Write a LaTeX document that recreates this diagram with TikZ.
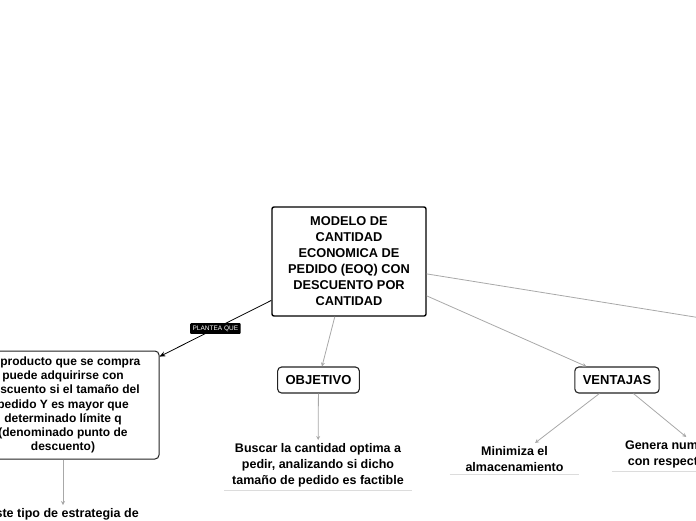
\documentclass[tikz,border=0pt]{standalone}
\usepackage{fontspec}
\setmainfont{Liberation Sans}
\usetikzlibrary{arrows.meta}
\definecolor{mgrey}{HTML}{A8A8A8}
\definecolor{mline}{HTML}{DCDCDC}
\definecolor{mdark}{HTML}{222222}

\begin{document}
\begin{tikzpicture}[x=1pt, y=-1pt,
  central/.style={draw=black, line width=1.4pt, rounded corners=2pt, fill=white, align=center,
                  minimum width=154pt, minimum height=109pt, font=\fontsize{12.8}{16}\selectfont\bfseries},
  topic/.style={draw=mdark, line width=1.1pt, rounded corners=4pt, fill=white, align=center,
                inner xsep=8pt, minimum height=26pt, font=\fontsize{13}{16}\selectfont\bfseries},
  note/.style={draw=mdark, line width=1pt, rounded corners=4pt, fill=white, align=center,
               minimum width=192pt, minimum height=108pt, font=\fontsize{12}{14.2}\selectfont\bfseries},
  leaf/.style={align=center, inner xsep=8pt, inner ysep=3pt, minimum width=129pt,
               font=\fontsize{12.5}{16}\selectfont\bfseries},
  arr/.style={draw=mgrey, line width=0.8pt, -{Stealth[length=4pt, width=4pt]}},
  link/.style={draw=black, line width=0.8pt, -{Stealth[length=6pt, width=5pt]}},
  tag/.style={fill=black, text=white, rounded corners=1pt, inner xsep=2.5pt, inner ysep=2.5pt,
              font=\fontsize{6.5}{7}\selectfont},
  underl/.style={draw=mline, line width=0.8pt}
]
\useasboundingbox (0,0) rectangle (696,520);
\clip (0,0) rectangle (696,520);

\node[central] (modelo) at (349,261.5)
  {MODELO DE\\CANTIDAD\\ECONOMICA DE\\PEDIDO (EOQ) CON\\DESCUENTO POR\\CANTIDAD};

\node[note] (producto) at (63,405)
  {El producto que se compra\\puede adquirirse con\\descuento si el tamaño del\\pedido Y es mayor que\\determinado límite q\\(denominado punto de\\descuento)};
\node[leaf, anchor=north] (estrategia) at (63,505) {Este tipo de estrategia de};

\node[topic] (objetivo) at (318.5,380) {OBJETIVO};
\node[leaf, anchor=north, minimum width=180pt] (buscar) at (318,440)
  {Buscar la cantidad optima a\\pedir, analizando si dicho\\tamaño de pedido es factible};

\node[topic] (ventajas) at (617,380) {VENTAJAS};
\node[leaf, anchor=north] (minimiza) at (514.5,443) {Minimiza el\\almacenamiento};
\node[leaf, anchor=north, inner xsep=13pt] (genera) at (707,437)
  {Genera numerosos ahorros\\con respecto al costo total};

% branch that leaves the picture on the right
\coordinate (fuera) at (900,350);

\draw[link] (modelo) -- node[tag] (plantea) {PLANTEA QUE} (producto);
\draw[arr] (producto) -- (estrategia);
\draw[arr] (modelo) -- (objetivo);
\draw[arr] (objetivo) -- (buscar);
\draw[arr] (modelo) -- (ventajas);
\draw[arr] (ventajas) -- (minimiza);
\draw[arr] (ventajas) -- (genera);
\draw[draw=mgrey, line width=0.8pt] (modelo) -- (fuera);

\draw[underl] (buscar.south west) -- (buscar.south east);
\draw[underl] (minimiza.south west) -- (minimiza.south east);
\draw[underl] (genera.south west) -- (genera.south east);
\end{tikzpicture}
\end{document}
